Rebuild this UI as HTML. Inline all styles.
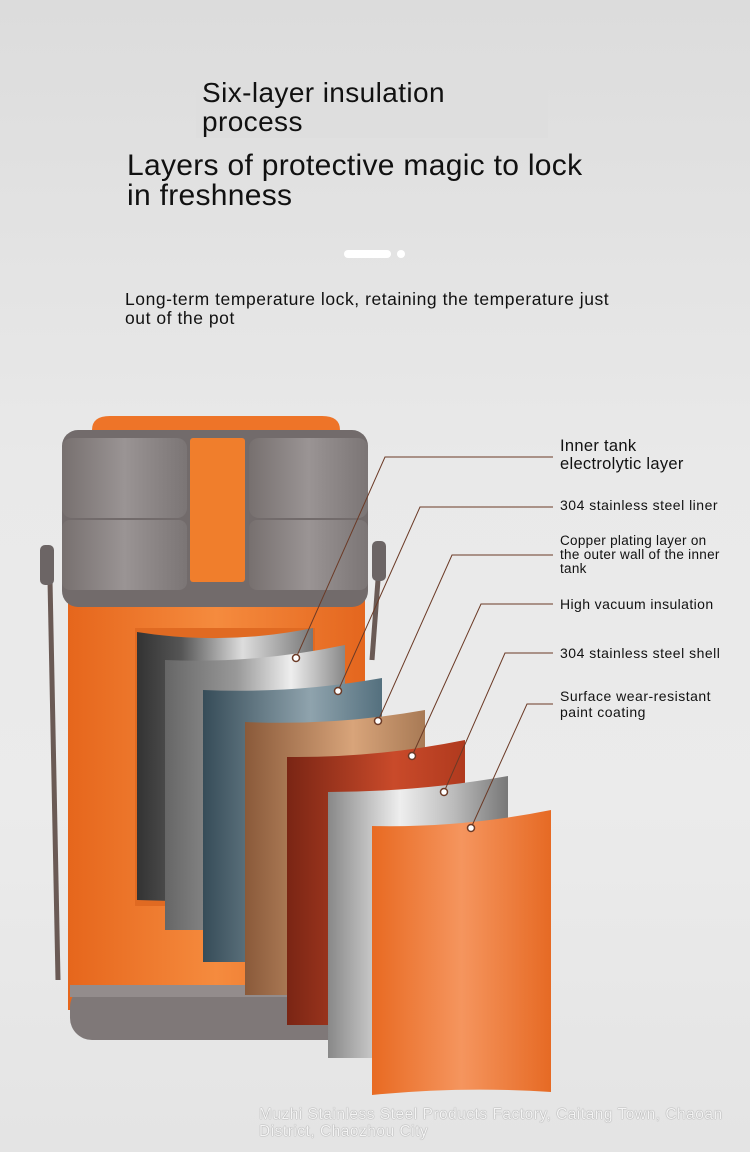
<!DOCTYPE html>
<html><head><meta charset="utf-8"><style>
html,body{margin:0;padding:0}
body{width:750px;height:1152px;overflow:hidden;background:linear-gradient(#dcdcdc,#e9e9e9 40%,#ebebeb 70%,#e4e4e4);font-family:"Liberation Sans",sans-serif;position:relative}
.t{position:absolute;color:#111;white-space:nowrap}
</style></head><body>
<div style="position:absolute;left:196px;top:82px;width:352px;height:56px;background:#dedede"></div>
<div class="t" style="left:202px;top:78px;font-size:28px;line-height:29px;letter-spacing:0.4px">Six-layer insulation<br>process</div>
<div class="t" style="left:127px;top:151px;font-size:30px;line-height:30px;letter-spacing:0.3px">Layers of protective magic to lock<br>in freshness</div>
<div style="position:absolute;left:344px;top:250px;width:47px;height:8px;border-radius:4px;background:#fff"></div>
<div style="position:absolute;left:397px;top:250px;width:8px;height:8px;border-radius:4px;background:#fff"></div>
<div class="t" style="left:125px;top:290px;font-size:17.5px;line-height:19px;letter-spacing:0.55px">Long-term temperature lock, retaining the temperature just<br>out of the pot</div>
<svg width="750" height="1152" style="position:absolute;left:0;top:0">
<defs>
<linearGradient id="or" x1="0" x2="1"><stop offset="0" stop-color="#e86a22"/><stop offset=".5" stop-color="#f5955e"/><stop offset="1" stop-color="#e66a24"/></linearGradient>
<linearGradient id="body" x1="0" x2="1"><stop offset="0" stop-color="#e6661c"/><stop offset=".5" stop-color="#f58b3e"/><stop offset="1" stop-color="#e4661e"/></linearGradient>
<linearGradient id="gr" x1="0" x2="1"><stop offset="0" stop-color="#77706f"/><stop offset=".5" stop-color="#9a9494"/><stop offset="1" stop-color="#7b7575"/></linearGradient>
<linearGradient id="p1" x1="0" x2="1"><stop offset="0" stop-color="#333"/><stop offset=".25" stop-color="#555"/><stop offset=".6" stop-color="#ddd"/><stop offset="1" stop-color="#777"/></linearGradient>
<linearGradient id="p2" x1="0" x2="1"><stop offset="0" stop-color="#666"/><stop offset=".4" stop-color="#999"/><stop offset=".7" stop-color="#eee"/><stop offset="1" stop-color="#888"/></linearGradient>
<linearGradient id="p3" x1="0" x2="1"><stop offset="0" stop-color="#364c58"/><stop offset=".6" stop-color="#8fa3ad"/><stop offset="1" stop-color="#54707e"/></linearGradient>
<linearGradient id="p4" x1="0" x2="1"><stop offset="0" stop-color="#8a5a3a"/><stop offset=".6" stop-color="#d8a47a"/><stop offset="1" stop-color="#a87a55"/></linearGradient>
<linearGradient id="p5" x1="0" x2="1"><stop offset="0" stop-color="#7a2514"/><stop offset=".6" stop-color="#c94a2a"/><stop offset="1" stop-color="#b03a1e"/></linearGradient>
<linearGradient id="p6" x1="0" x2="1"><stop offset="0" stop-color="#888"/><stop offset=".4" stop-color="#eee"/><stop offset=".7" stop-color="#bbb"/><stop offset="1" stop-color="#777"/></linearGradient>
</defs>
<path d="M50 580 L58 980" stroke="#6a5a55" stroke-width="5" fill="none"/>
<path d="M378 580 L372 660" stroke="#6a5a55" stroke-width="5" fill="none"/>
<rect x="68" y="590" width="297" height="420" fill="url(#body)"/>
<rect x="70" y="985" width="293" height="55" rx="22" fill="#7f7878"/>
<rect x="70" y="985" width="293" height="12" fill="#938c8c"/>
<path d="M92 430 Q92 416 110 416 L322 416 Q340 416 340 430 Z" fill="#ee7428"/>
<rect x="62" y="430" width="306" height="177" rx="16" fill="#726b6b"/>
<rect x="62" y="438" width="125" height="80" rx="10" fill="url(#gr)"/>
<rect x="249" y="438" width="119" height="80" rx="10" fill="url(#gr)"/>
<rect x="62" y="520" width="125" height="70" rx="8" fill="url(#gr)"/>
<rect x="249" y="520" width="119" height="70" rx="8" fill="url(#gr)"/>
<rect x="190" y="438" width="55" height="144" rx="3" fill="#f07e2c"/>
<rect x="40" y="545" width="14" height="40" rx="5" fill="#6c6565"/>
<rect x="372" y="541" width="14" height="40" rx="5" fill="#6c6565"/>
<rect x="135" y="628" width="180" height="278" fill="#e06a22"/>
<path d="M137 632 Q225 646 313 628 L313 905 L137 900 Z" fill="url(#p1)"/>
<path d="M165 660 Q255 664 345 645 L345 930 L165 930 Z" fill="url(#p2)"/>
<path d="M203 690 Q292 694 382 678 L382 962 L203 962 Z" fill="url(#p3)"/>
<path d="M245 722 Q335 726 425 710 L425 995 L245 995 Z" fill="url(#p4)"/>
<path d="M287 757 Q376 758 465 740 L465 1025 L287 1025 Z" fill="url(#p5)"/>
<path d="M328 792 Q418 792 508 776 L508 1058 L328 1058 Z" fill="url(#p6)"/>
<path d="M372 826 Q462 828 551 810 L551 1092 Q462 1086 372 1095 Z" fill="url(#or)"/>
<g stroke="#6b3a26" stroke-width="1" fill="none">
<path d="M296 658 L385 457 L553 457"/>
<path d="M338 691 L420 507 L553 507"/>
<path d="M378 721 L452 555 L553 555"/>
<path d="M412 756 L481 604 L553 604"/>
<path d="M444 792 L505 653 L553 653"/>
<path d="M471 828 L527 704 L553 704"/>
</g>
<g fill="#fff" stroke="#6b3a26" stroke-width="1.5">
<circle cx="296" cy="658" r="3.5"/><circle cx="338" cy="691" r="3.5"/><circle cx="378" cy="721" r="3.5"/>
<circle cx="412" cy="756" r="3.5"/><circle cx="444" cy="792" r="3.5"/><circle cx="471" cy="828" r="3.5"/>
</g>
</svg>
<div class="t" style="left:560px;top:437px;font-size:16.5px;line-height:18px;letter-spacing:0.3px">Inner tank<br>electrolytic layer</div>
<div class="t" style="left:560px;top:497px;font-size:14px;letter-spacing:0.5px">304 stainless steel liner</div>
<div class="t" style="left:560px;top:534px;font-size:13.5px;line-height:14px;letter-spacing:0.3px">Copper plating layer on<br>the outer wall of the inner<br>tank</div>
<div class="t" style="left:560px;top:596px;font-size:14px;letter-spacing:0.4px">High vacuum insulation</div>
<div class="t" style="left:560px;top:645px;font-size:14px;letter-spacing:0.5px">304 stainless steel shell</div>
<div class="t" style="left:560px;top:688px;font-size:14px;line-height:16px;letter-spacing:0.5px">Surface wear-resistant<br>paint coating</div>
<div class="t" style="left:259px;top:1106px;font-size:15.5px;line-height:17px;letter-spacing:0.5px;color:#f4f4f4;text-shadow:0 0 1px #666">Muzhi Stainless Steel Products Factory, Caitang Town, Chaoan<br>District, Chaozhou City</div>
</body></html>
